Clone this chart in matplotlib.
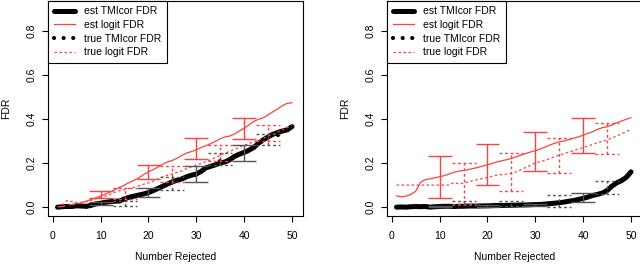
import matplotlib
matplotlib.use("Agg")
import matplotlib.pyplot as plt
import numpy as np

plt.rcParams["font.family"] = ["Liberation Sans", "DejaVu Sans"]

rank = np.arange(1, 51)

# ---- left panel ----
est_tmi_1 = [0.000, 0.002, 0.003, 0.003, 0.006, 0.005, 0.004, 0.008, 0.015, 0.018,
             0.022, 0.025, 0.027, 0.028, 0.038, 0.045, 0.050, 0.055, 0.060, 0.066,
             0.075, 0.085, 0.095, 0.105, 0.115, 0.122, 0.128, 0.138, 0.145, 0.150,
             0.162, 0.178, 0.185, 0.192, 0.200, 0.205, 0.215, 0.230, 0.240, 0.248,
             0.258, 0.270, 0.290, 0.305, 0.318, 0.330, 0.338, 0.345, 0.350, 0.365]
true_tmi_1 = [0.000, 0.000, 0.004, 0.002, 0.005, 0.006, 0.002, 0.010, 0.014, 0.020,
              0.020, 0.026, 0.028, 0.024, 0.040, 0.046, 0.052, 0.054, 0.062, 0.065,
              0.076, 0.084, 0.096, 0.104, 0.116, 0.120, 0.130, 0.136, 0.146, 0.148,
              0.164, 0.176, 0.186, 0.190, 0.210, 0.204, 0.216, 0.228, 0.242, 0.246,
              0.262, 0.268, 0.292, 0.302, 0.320, 0.332, 0.325, 0.346, 0.352, 0.362]
est_logit_1 = [0.000, 0.003, 0.008, 0.012, 0.015, 0.020, 0.027, 0.035, 0.042, 0.050,
               0.060, 0.068, 0.080, 0.090, 0.100, 0.112, 0.122, 0.133, 0.148, 0.160,
               0.170, 0.182, 0.195, 0.205, 0.212, 0.222, 0.235, 0.245, 0.252, 0.260,
               0.270, 0.278, 0.288, 0.298, 0.310, 0.318, 0.322, 0.332, 0.345, 0.358,
               0.372, 0.388, 0.398, 0.405, 0.418, 0.432, 0.445, 0.460, 0.470, 0.473]
true_logit_1 = [0.000, 0.010, 0.030, 0.025, 0.020, 0.022, 0.025, 0.030, 0.038, 0.045,
                0.050, 0.058, 0.068, 0.075, 0.080, 0.085, 0.090, 0.097, 0.104, 0.110,
                0.118, 0.128, 0.138, 0.145, 0.150, 0.158, 0.165, 0.175, 0.183, 0.190,
                0.198, 0.206, 0.215, 0.225, 0.235, 0.245, 0.252, 0.262, 0.272, 0.280,
                0.288, 0.296, 0.303, 0.312, 0.320, 0.330, 0.340, 0.350, 0.360, 0.370]

# error bars: est at 10,20,30,40 ; true at 15,25,35,45
est_x = [10, 20, 30, 40]
true_x = [15, 25, 35, 45]
est_logit_lo_1 = [0.040, 0.126, 0.217, 0.307]
est_logit_hi_1 = [0.072, 0.190, 0.311, 0.406]
est_tmi_lo_1 = [0.010, 0.048, 0.113, 0.207]
est_tmi_hi_1 = [0.025, 0.089, 0.188, 0.281]
true_logit_lo_1 = [0.035, 0.116, 0.210, 0.300]
true_logit_hi_1 = [0.088, 0.188, 0.280, 0.370]
true_tmi_lo_1 = [0.006, 0.080, 0.190, 0.280]
true_tmi_hi_1 = [0.028, 0.138, 0.245, 0.333]

# ---- right panel ----
est_tmi_2 = [0.000, 0.001, 0.000, 0.002, 0.003, 0.002, 0.003, 0.000, 0.002, 0.003,
             0.004, 0.004, 0.003, 0.004, 0.004, 0.005, 0.005, 0.005, 0.006, 0.006,
             0.007, 0.008, 0.008, 0.008, 0.009, 0.009, 0.010, 0.010, 0.011, 0.012,
             0.012, 0.014, 0.016, 0.018, 0.020, 0.023, 0.027, 0.030, 0.035, 0.040,
             0.046, 0.053, 0.058, 0.064, 0.075, 0.095, 0.110, 0.120, 0.135, 0.160]
true_tmi_2 = [0.000, 0.000, 0.001, 0.001, 0.004, 0.002, 0.002, 0.001, 0.001, 0.004,
              0.003, 0.005, 0.003, 0.003, 0.005, 0.004, 0.006, 0.005, 0.005, 0.007,
              0.006, 0.009, 0.007, 0.009, 0.008, 0.010, 0.009, 0.011, 0.010, 0.013,
              0.011, 0.015, 0.015, 0.019, 0.021, 0.022, 0.028, 0.031, 0.034, 0.041,
              0.045, 0.054, 0.057, 0.066, 0.078, 0.092, 0.112, 0.122, 0.132, 0.158]
est_logit_2 = [0.051, 0.047, 0.050, 0.058, 0.072, 0.112, 0.125, 0.128, 0.133, 0.138,
               0.143, 0.150, 0.158, 0.163, 0.166, 0.170, 0.175, 0.180, 0.186, 0.192,
               0.198, 0.205, 0.210, 0.215, 0.220, 0.228, 0.236, 0.243, 0.250, 0.256,
               0.263, 0.272, 0.281, 0.289, 0.296, 0.300, 0.306, 0.312, 0.318, 0.326,
               0.334, 0.342, 0.352, 0.360, 0.364, 0.372, 0.382, 0.390, 0.398, 0.405]
true_logit_2 = [0.100, 0.100, 0.100, 0.100, 0.100, 0.100, 0.100, 0.100, 0.100, 0.100,
                0.100, 0.100, 0.112, 0.106, 0.108, 0.115, 0.120, 0.125, 0.130, 0.135,
                0.140, 0.145, 0.148, 0.150, 0.154, 0.160, 0.170, 0.180, 0.190, 0.200,
                0.206, 0.212, 0.220, 0.228, 0.236, 0.242, 0.250, 0.256, 0.264, 0.270,
                0.277, 0.284, 0.292, 0.298, 0.305, 0.313, 0.322, 0.332, 0.342, 0.352]

est_logit_lo_2 = [0.041, 0.100, 0.165, 0.244]
est_logit_hi_2 = [0.233, 0.284, 0.341, 0.405]
est_tmi_lo_2 = [0.000, 0.003, 0.005, 0.022]
est_tmi_hi_2 = [0.005, 0.010, 0.015, 0.062]
true_logit_lo_2 = [0.015, 0.072, 0.153, 0.240]
true_logit_hi_2 = [0.200, 0.247, 0.311, 0.382]
true_tmi_lo_2 = [0.010, 0.005, 0.003, 0.060]
true_tmi_hi_2 = [0.027, 0.030, 0.056, 0.119]

RED = "#ff4040"
GREY = "#555555"
CAP = 2.5


def bars(ax, x, lo, hi, color, ls):
    x = np.asarray(x)
    ax.vlines(x, lo, hi, colors=color, linestyles=ls, lw=1.0)
    ax.hlines(lo, x - CAP, x + CAP, colors=color, linestyles=ls, lw=1.0)
    ax.hlines(hi, x - CAP, x + CAP, colors=color, linestyles=ls, lw=1.0)


def panel(ax, est_tmi, true_tmi, est_logit, true_logit, b):
    ax.plot(rank, est_tmi, color="black", lw=3.6, label="est TMIcor FDR",
            solid_capstyle="round")
    ax.plot(rank, est_logit, color=RED, lw=0.9, label="est logit FDR")
    ax.plot(rank, true_tmi, color="black", lw=3.0, ls=(0, (0.01, 2.3)),
            dash_capstyle="round", label="true TMIcor FDR")
    ax.plot(rank, true_logit, color=RED, lw=0.9, ls=(0, (2, 2)),
            label="true logit FDR")
    bars(ax, est_x, b[0], b[1], RED, "-")
    bars(ax, est_x, b[2], b[3], GREY, "-")
    bars(ax, true_x, b[4], b[5], RED, (0, (2, 2)))
    bars(ax, true_x, b[6], b[7], GREY, (0, (2, 2)))

    ax.set_xlim(-1.0, 52.3)
    ax.set_ylim(-0.04, 0.936)
    ax.set_xticks([0, 10, 20, 30, 40, 50])
    ax.set_yticks([0.0, 0.2, 0.4, 0.6, 0.8])
    ax.set_yticklabels(["0.0", "0.2", "0.4", "0.6", "0.8"], rotation=90, va="center")
    ax.tick_params(labelsize=7.5, length=4.5, width=0.8)
    ax.tick_params(axis="x", pad=6)
    ax.tick_params(axis="y", pad=4)
    for s in ax.spines.values():
        s.set_linewidth(0.8)
    ax.set_xlabel("Number Rejected", fontsize=7.5, labelpad=8)
    ax.set_ylabel("FDR", fontsize=7.5, labelpad=11)
    leg = ax.legend(loc="upper left", bbox_to_anchor=(0, 1), borderaxespad=0,
                    fontsize=7.5, frameon=True, fancybox=False, framealpha=1,
                    handlelength=2.0, handletextpad=0.9, labelspacing=0.35,
                    borderpad=0.55)
    leg.get_frame().set_edgecolor("black")
    leg.get_frame().set_linewidth(0.8)


fig = plt.figure(figsize=(6.4, 2.66), dpi=100)
ax1 = fig.add_axes([48 / 640, 1 - 216 / 266, 255 / 640, 215.5 / 266])
ax2 = fig.add_axes([387 / 640, 1 - 216 / 266, 255 / 640, 215.5 / 266])

panel(ax1, est_tmi_1, true_tmi_1, est_logit_1, true_logit_1,
      [est_logit_lo_1, est_logit_hi_1, est_tmi_lo_1, est_tmi_hi_1,
       true_logit_lo_1, true_logit_hi_1, true_tmi_lo_1, true_tmi_hi_1])
panel(ax2, est_tmi_2, true_tmi_2, est_logit_2, true_logit_2,
      [est_logit_lo_2, est_logit_hi_2, est_tmi_lo_2, est_tmi_hi_2,
       true_logit_lo_2, true_logit_hi_2, true_tmi_lo_2, true_tmi_hi_2])

fig.savefig("out.png", dpi=100)
